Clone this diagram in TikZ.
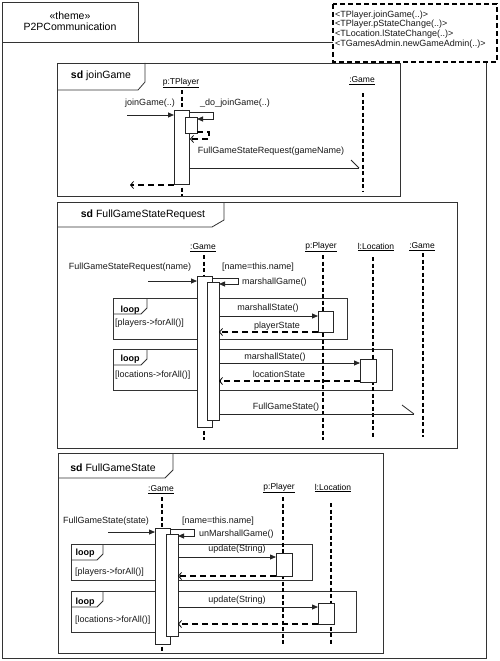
\documentclass[tikz,border=0pt]{standalone}
\usepackage{fontspec}
\setmainfont{Liberation Sans}
\usetikzlibrary{arrows.meta}
\begin{document}
\begin{tikzpicture}[x=1pt,y=-1pt,
  fr/.style={draw=black!80,line width=0.8pt},
  ll/.style={draw=black,line width=1.3pt,dash pattern=on 4pt off 2.5pt},
  act/.style={draw=black!85,fill=white,line width=0.8pt},
  call/.style={draw=black!85,line width=0.8pt,-{Triangle[length=6pt,width=5pt]}},
  msg/.style={draw=black!85,line width=0.8pt},
  ret/.style={draw=black,line width=1.3pt,dash pattern=on 6pt off 4pt,-{Straight Barb[length=3pt,width=7pt,line width=0.8pt]}},
  retp/.style={draw=black,line width=1.3pt,dash pattern=on 6pt off 4pt},
  t/.style={font=\fontsize{9}{10}\selectfont,inner sep=0pt,text=black!90},
  tl/.style={t,anchor=west},
  obj/.style={font=\fontsize{8.5}{10}\selectfont,inner sep=0pt},
  sdt/.style={font=\fontsize{10.5}{12}\selectfont,inner sep=0pt},
  lp/.style={font=\bfseries\fontsize{9}{10}\selectfont,inner sep=0pt}
]
\useasboundingbox[fill=white] (0,0) rectangle (500,661);

% outer frame
\draw[fr] (2,42) rectangle (486,658);
\draw[fr,fill=white] (2,2) rectangle (138,42);
\node[sdt] (th1) at (70,16) {«theme»};
\node[sdt] (th2) at (70,27) {P2PCommunication};

% note
\draw[draw=black,line width=1.3pt,dash pattern=on 5pt off 3pt,fill=white] (333,4) rectangle (497,62);
\node[tl] (n1) at (335,14.7) {<TPlayer.joinGame(..)>};
\node[tl] (n2) at (335,24.6) {<TPlayer.pStateChange(..)>};
\node[tl] (n3) at (335,34.5) {<TLocation.lStateChange(..)>};
\node[tl] (n4) at (335,44.4) {<TGamesAdmin.newGameAdmin(..)>};

% ===== frame 1: joinGame
\draw[fr] (57,63) rectangle (400,196);
\draw[fr] (57,90) -- (138,90) -- (145,82) -- (145,63);
\node[sdt] (sd1) at (101,76) {\textbf{sd} joinGame};
\node[obj] (o11) at (181,83) {\underline{p:TPlayer}};
\node[obj] (o12) at (362,81) {\underline{:Game}};
\draw[ll] (182,90) -- (182,196);
\draw[ll] (363,93) -- (363,192);
\draw[act] (174,110) rectangle (189,184);
\draw[act] (185,117) rectangle (197,133);
\draw[call] (127,115) -- (174,115);
\node[t] (m11) at (150,103) {joinGame(..)};
\draw[call] (189,112) -- (213,112) -- (213,119) -- (197,119);
\node[t] (m12) at (235,103) {\_do\_joinGame(..)};
\draw[ret] (197,132) -- (209,132) -- (209,139) -- (190,139);
\draw[msg] (189,168) -- (359,168);
\draw[msg] (351,160) -- (359,168);
\node[t] (m13) at (271,151) {FullGameStateRequest(gameName)};
\draw[ret] (174,185) -- (130,185);

% ===== frame 2: FullGameStateRequest
\draw[fr] (57,202) rectangle (457,448);
\draw[fr] (57,227) -- (212,227) -- (224,220) -- (224,202);
\node[sdt] (sd2) at (143,215) {\textbf{sd} FullGameStateRequest};
\node[obj] (o21) at (203,248) {\underline{:Game}};
\node[obj] (o22) at (321,247) {\underline{p:Player}};
\node[obj] (o23) at (376,247) {\underline{l:Location}};
\node[obj] (o24) at (422,247) {\underline{:Game}};
% loops
\draw[fr] (113,298) rectangle (347,339);
\draw[fr] (113,314) -- (141,314) -- (147,308) -- (147,298);
\node[lp] (l21) at (130,310) {loop};
\node[tl] (g21) at (115,323) {[players->forAll()]};
\draw[fr] (113,349) rectangle (392,390);
\draw[fr] (113,365) -- (141,365) -- (147,359) -- (147,349);
\node[lp] (l22) at (130,359) {loop};
\node[tl] (g22) at (115,375) {[locations->forAll()]};
% lifelines
\draw[ll] (204,255) -- (204,440);
\draw[ll] (323,255) -- (323,440);
\draw[ll] (373,257) -- (373,437);
\draw[ll] (423,253) -- (423,437);
\draw[act] (197,276) rectangle (212,427);
\draw[act] (207,282) rectangle (219,420);
\draw[act] (318,311) rectangle (333,332);
\draw[act] (360,359) rectangle (376,382);
% messages
\draw[call] (148,281) -- (197,281);
\node[t] (m21) at (130,267) {FullGameStateRequest(name)};
\draw[call] (212,278) -- (238,278) -- (238,284) -- (219,284);
\node[tl] (m22) at (222,267) {[name=this.name]};
\node[tl] (m23) at (242,282) {marshallGame()};
\draw[call] (219,316) -- (318,316);
\node[t] (m24) at (268,308) {marshallState()};
\draw[ret] (318,332) -- (219,332);
\node[t] (m25) at (277,326) {playerState};
\draw[call] (219,363) -- (360,363);
\node[t] (m26) at (275,357) {marshallState()};
\draw[ret] (360,381) -- (219,381);
\node[t] (m27) at (279,374) {locationState};
\draw[msg] (219,414) -- (414,414);
\draw[msg] (402,405) -- (414,414);
\node[t] (m28) at (286,407) {FullGameState()};

% ===== frame 3: FullGameState
\draw[fr] (58,453) rectangle (383,653);
\draw[fr] (58,478) -- (165,478) -- (173,470) -- (173,453);
\node[sdt] (sd3) at (113,468) {\textbf{sd} FullGameState};
\node[obj] (o31) at (161,490) {\underline{:Game}};
\node[obj] (o32) at (279,488) {\underline{p:Player}};
\node[obj] (o33) at (333,488) {\underline{l:Location}};
% loops
\draw[fr] (71,544) rectangle (312,580);
\draw[fr] (71,560) -- (97,560) -- (103,554) -- (103,544);
\node[lp] (l31) at (85,553) {loop};
\node[tl] (g31) at (75,572) {[players->forAll()]};
\draw[fr] (71,591) rectangle (356,632);
\draw[fr] (71,607) -- (97,607) -- (103,601) -- (103,591);
\node[lp] (l32) at (85,602) {loop};
\node[tl] (g32) at (75,620) {[locations->forAll()]};
% lifelines
\draw[ll] (162,497) -- (162,653);
\draw[ll] (283,497) -- (283,645);
\draw[ll] (331,503) -- (331,645);
\draw[act] (155,528) rectangle (170,644);
\draw[act] (166,534) rectangle (178,636);
\draw[act] (276,553) rectangle (292,576);
\draw[act] (318,603) rectangle (334,624);
% messages
\draw[call] (108,532) -- (155,532);
\node[t] (m31) at (106,521) {FullGameState(state)};
\draw[call] (170,529) -- (194,529) -- (194,536) -- (178,536);
\node[tl] (m32) at (182,521) {[name=this.name]};
\node[tl] (m33) at (199,534) {unMarshallGame()};
\draw[call] (178,557) -- (276,557);
\node[t] (m34) at (237,549) {update(String)};
\draw[ret] (276,576) -- (178,576);
\draw[call] (178,607) -- (318,607);
\node[t] (m35) at (237,600) {update(String)};
\draw[ret] (318,624) -- (178,624);
\end{tikzpicture}
\end{document}
